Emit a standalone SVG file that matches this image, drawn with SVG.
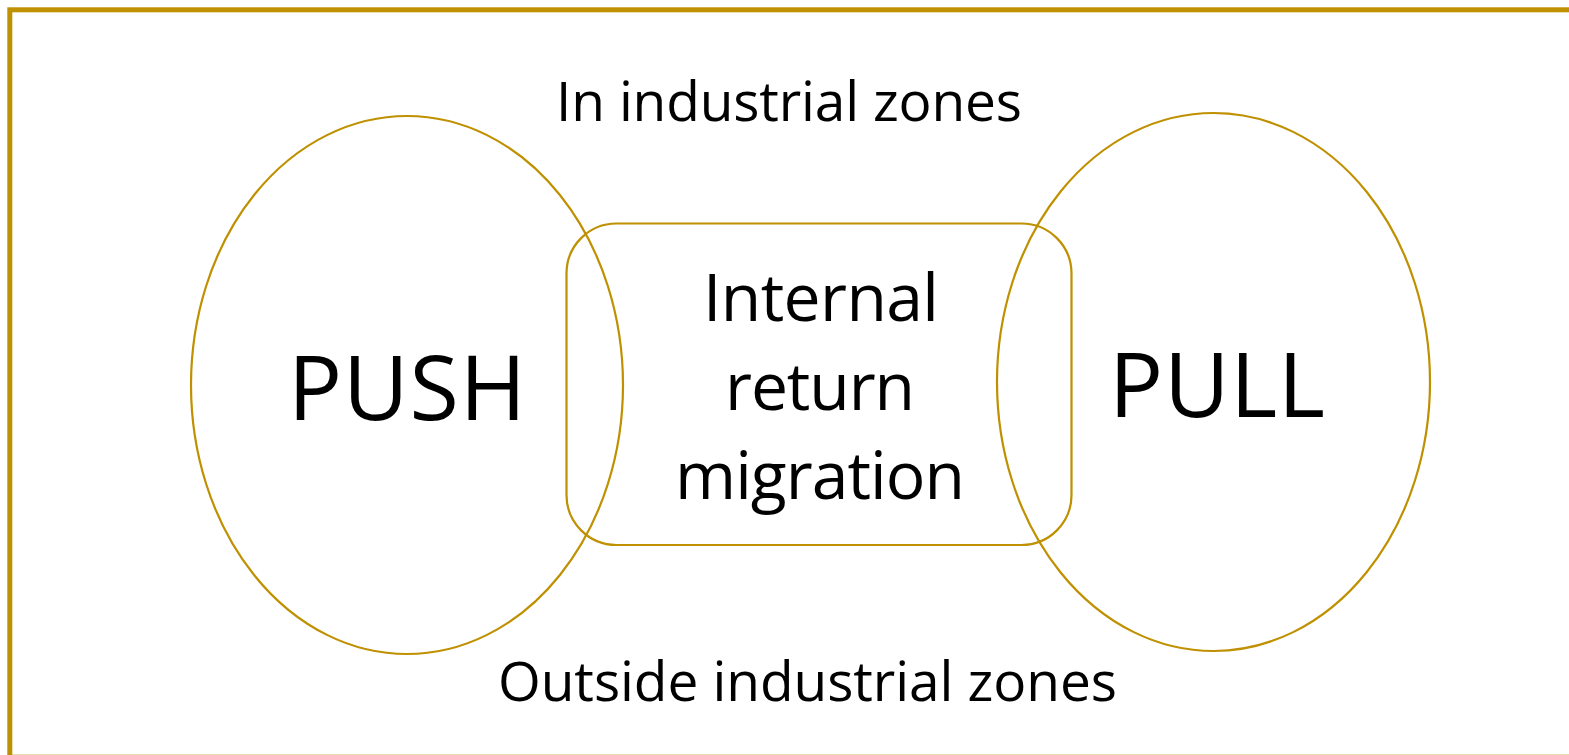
<svg xmlns="http://www.w3.org/2000/svg" width="1569" height="755" viewBox="0 0 1569 755">
<style>
.ln{fill:none;stroke:#BF9000;stroke-width:2.2}
.t{font-family:"Open Sans","Liberation Sans",sans-serif;fill:#000;text-anchor:middle}
</style>
<rect x="0" y="0" width="1569" height="755" fill="#fff"/>
<rect id="frame" x="9.8" y="9.8" width="1570" height="747.4" fill="none" stroke="#BF9000" stroke-width="5"/>
<g id="connectors"></g>
<g id="push">
<ellipse class="ln" cx="407" cy="385" rx="216" ry="269"/>
<text class="t" x="407" y="420" font-size="90" textLength="238">PUSH</text>
</g>
<g id="pull">
<ellipse class="ln" cx="1213.5" cy="382" rx="216.5" ry="269"/>
<text class="t" x="1217" y="417" font-size="90" textLength="216">PULL</text>
</g>
<g id="internal">
<rect class="ln" x="566.5" y="223.5" width="505" height="321.5" rx="50" ry="50"/>
<text class="t" x="821" y="321" font-size="66" textLength="236">Internal</text>
<text class="t" x="820" y="410" font-size="66" textLength="190">return</text>
<text class="t" x="820" y="499" font-size="66" textLength="290">migration</text>
</g>
<g id="top-label">
<text class="t" x="789" y="121" font-size="55" textLength="466">In industrial zones</text>
</g>
<g id="bottom-label">
<text class="t" x="807.5" y="701" font-size="55" textLength="619">Outside industrial zones</text>
</g>
</svg>
